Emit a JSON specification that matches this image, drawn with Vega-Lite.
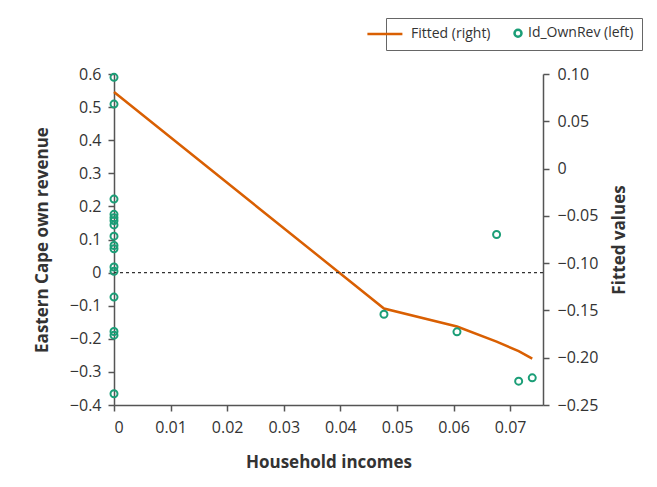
{
  "$schema": "https://vega.github.io/schema/vega-lite/v6.json",
  "width": 429,
  "height": 331,
  "autosize": "none",
  "padding": {"left": 114, "top": 74, "right": 114, "bottom": 82},
  "background": "white",
  "datasets": {
    "obs": [
      {"hh": 0, "rev": 0.59, "series": "Id_OwnRev (left)"},
      {"hh": 0, "rev": 0.509, "series": "Id_OwnRev (left)"},
      {"hh": 0, "rev": 0.222, "series": "Id_OwnRev (left)"},
      {"hh": 0, "rev": 0.176, "series": "Id_OwnRev (left)"},
      {"hh": 0, "rev": 0.166, "series": "Id_OwnRev (left)"},
      {"hh": 0, "rev": 0.157, "series": "Id_OwnRev (left)"},
      {"hh": 0, "rev": 0.144, "series": "Id_OwnRev (left)"},
      {"hh": 0, "rev": 0.11, "series": "Id_OwnRev (left)"},
      {"hh": 0, "rev": 0.082, "series": "Id_OwnRev (left)"},
      {"hh": 0, "rev": 0.072, "series": "Id_OwnRev (left)"},
      {"hh": 0, "rev": 0.017, "series": "Id_OwnRev (left)"},
      {"hh": 0, "rev": 0.004, "series": "Id_OwnRev (left)"},
      {"hh": 0, "rev": -0.074, "series": "Id_OwnRev (left)"},
      {"hh": 0, "rev": -0.178, "series": "Id_OwnRev (left)"},
      {"hh": 0, "rev": -0.189, "series": "Id_OwnRev (left)"},
      {"hh": 0, "rev": -0.366, "series": "Id_OwnRev (left)"},
      {"hh": 0.0477, "rev": -0.126, "series": "Id_OwnRev (left)"},
      {"hh": 0.0606, "rev": -0.179, "series": "Id_OwnRev (left)"},
      {"hh": 0.0676, "rev": 0.115, "series": "Id_OwnRev (left)"},
      {"hh": 0.0715, "rev": -0.328, "series": "Id_OwnRev (left)"},
      {"hh": 0.0739, "rev": -0.318, "series": "Id_OwnRev (left)"}
    ],
    "fit": [
      {"hh": 0, "fitted": 0.081},
      {"hh": 0.0477, "fitted": -0.148},
      {"hh": 0.0606, "fitted": -0.167},
      {"hh": 0.0676, "fitted": -0.183},
      {"hh": 0.0715, "fitted": -0.193},
      {"hh": 0.0739, "fitted": -0.201}
    ]
  },
  "layer": [
    {
      "data": {"name": "fit"},
      "mark": {"type": "line", "color": "#d95f02", "strokeWidth": 2.5},
      "encoding": {
        "x": {
          "field": "hh", "type": "quantitative",
          "scale": {"domain": [0, 0.0758], "nice": false, "zero": false},
          "axis": {"values": [0, 0.01, 0.02, 0.03, 0.04, 0.05, 0.06, 0.07], "format": ".2~f", "title": "Household incomes", "labelPadding": 8, "titlePadding": 19}
        },
        "y": {
          "field": "fitted", "type": "quantitative",
          "scale": {"domain": [-0.25, 0.1], "nice": false, "zero": false},
          "axis": {
            "orient": "right",
            "values": [-0.25, -0.2, -0.15, -0.1, -0.05, 0, 0.05, 0.1],
            "labelExpr": "datum.value == 0 ? '0' : format(datum.value, '.2f')",
            "title": "Fitted values",
            "titleAngle": 270,
            "titleBaseline": "top",
            "labelPadding": 8,
            "titlePadding": 14
          }
        }
      }
    },
    {
      "layer": [
        {
          "data": {"values": [{"z": 0}]},
          "mark": {"type": "rule", "strokeDash": [3, 3], "color": "#333", "strokeWidth": 1.2},
          "encoding": {
            "y": {
              "field": "z", "type": "quantitative",
              "axis": {
                "orient": "left",
                "values": [-0.4, -0.3, -0.2, -0.1, 0, 0.1, 0.2, 0.3, 0.4, 0.5, 0.6],
                "format": ".1~f",
                "title": "Eastern Cape own revenue",
                "labelPadding": 7,
                "titlePadding": 18
              }
            }
          }
        },
        {
          "data": {"name": "obs"},
          "mark": {"type": "point", "filled": false, "strokeWidth": 2, "opacity": 1, "size": 49},
          "encoding": {
            "x": {"field": "hh", "type": "quantitative"},
            "y": {
              "field": "rev", "type": "quantitative",
              "scale": {"domain": [-0.4, 0.6], "nice": false, "zero": false},
              "axis": {
                "orient": "left",
                "values": [-0.4, -0.3, -0.2, -0.1, 0, 0.1, 0.2, 0.3, 0.4, 0.5, 0.6],
                "format": ".1~f",
                "title": "Eastern Cape own revenue",
                "labelPadding": 7,
                "titlePadding": 18
              }
            },
            "color": {
              "field": "series", "type": "nominal",
              "scale": {"domain": ["Fitted (right)", "Id_OwnRev (left)"], "range": ["#d95f02", "#1b9e77"]},
              "legend": {
                "title": null,
                "orient": "none",
                "direction": "horizontal",
                "legendX": 272,
                "legendY": -56,
                "labelFont": "Open Sans",
                "labelFontSize": 14,
                "labelColor": "#333",
                "symbolStrokeWidth": 2.5,
                "symbolSize": 49,
                "strokeColor": "#666",
                "fillColor": "white",
                "padding": 8,
                "columnPadding": 18,
                "labelOffset": 3
              }
            },
            "shape": {
              "field": "series", "type": "nominal",
              "scale": {"domain": ["Fitted (right)", "Id_OwnRev (left)"], "range": ["M-9.6,0H0.4", "circle"]}
            }
          }
        }
      ]
    }
  ],
  "resolve": {"scale": {"y": "independent"}},
  "config": {
    "view": {"stroke": null},
    "axis": {
      "grid": false,
      "labelOverlap": false,
      "labelFont": "Open Sans",
      "labelFontSize": 16,
      "labelColor": "#333",
      "titleFont": "Open Sans",
      "titleFontSize": 17,
      "titleFontWeight": "bold",
      "titleColor": "#333",
      "domainColor": "#555",
      "domainWidth": 1.5,
      "tickColor": "#555",
      "tickWidth": 1.5,
      "tickSize": 6
    }
  }
}
